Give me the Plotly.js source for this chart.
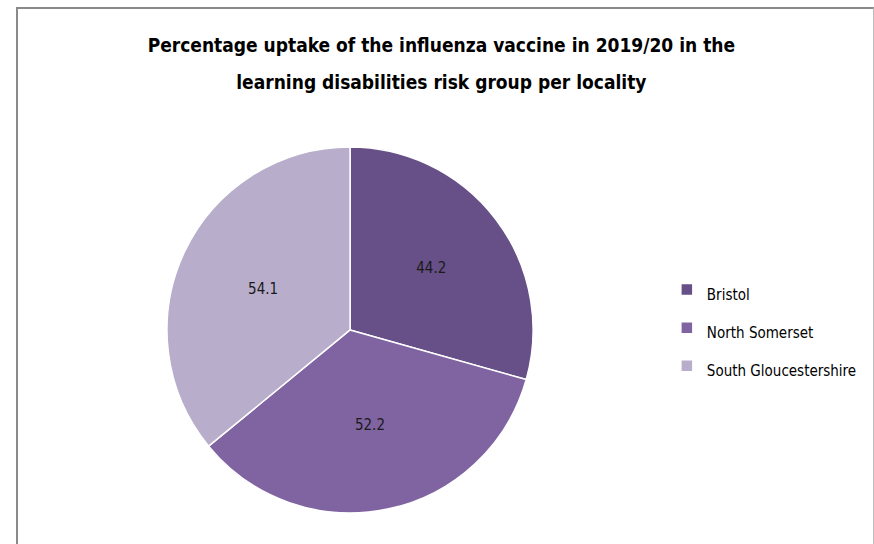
<!DOCTYPE html>
<html>
<head>
<meta charset="utf-8">
<script src="https://cdn.plot.ly/plotly-3.0.1.min.js"></script>
<style>
  html, body { margin: 0; padding: 0; background: #ffffff; }
  #frame { position: absolute; left: 16px; top: 7px; width: 858px; height: 540px;
           border-top: 2px solid #8a8a8a; border-left: 2px solid #8a8a8a; border-right: 1px solid #bdbdbd; box-sizing: border-box; pointer-events: none; }
  #chart { position: absolute; left: 0; top: 0; width: 874px; height: 544px; }
  #chart text { font-stretch: condensed !important; }
</style>
</head>
<body>
<div id="chart"></div>
<div id="frame"></div>
<script>
const categories = ["Bristol", "North Somerset", "South Gloucestershire"];
const uptake = [44.2, 52.2, 54.1];
const colors = ["#674F87", "#8064A2", "#B8AECB"];
const titleLines = ["Percentage uptake of the influenza vaccine in 2019/20 in the",
                    "learning disabilities risk group per locality"];

const fontFam = '"DejaVu Sans", sans-serif';
const legendLabels = categories.map(c => '<span style="font-size:15px">' + c + '</span>');
const titleText = titleLines.map(t => '<span style="font-size:19px">' + t + '</span>').join('<br>');

const trace = {
  type: "pie",
  labels: legendLabels,
  values: uptake,
  sort: false,
  direction: "clockwise",
  rotation: 0,
  marker: { colors: colors, line: { color: "#ffffff", width: 1.5 } },
  textinfo: "value",
  texttemplate: "%{value:.1f}",
  textposition: "inside",
  insidetextorientation: "horizontal",
  textfont: { family: fontFam, size: 15, color: "#1a1a1a" },
  hoverinfo: "label+value",
  domain: { x: [0.191, 0.610], y: [0.057, 0.730] }
};

const layout = {
  width: 874, height: 544,
  margin: { l: 0, r: 0, t: 0, b: 0, autoexpand: false },
  paper_bgcolor: "#ffffff",
  title: {
    text: titleText,
    font: { family: fontFam, size: 29, color: "#000000", weight: "bold" },
    x: 0.505, xanchor: "center",
    y: 0.905, yanchor: "top", yref: "container"
  },
  showlegend: true,
  legend: {
    x: 0.763, xanchor: "left", y: 0.397, yanchor: "middle",
    font: { family: fontFam, size: 27, color: "#000000" },
    tracegroupgap: 0, itemwidth: 30,
    bgcolor: "rgba(0,0,0,0)"
  }
};

Plotly.newPlot("chart", [trace], layout, { displayModeBar: false, staticPlot: true });
</script>
</body>
</html>
